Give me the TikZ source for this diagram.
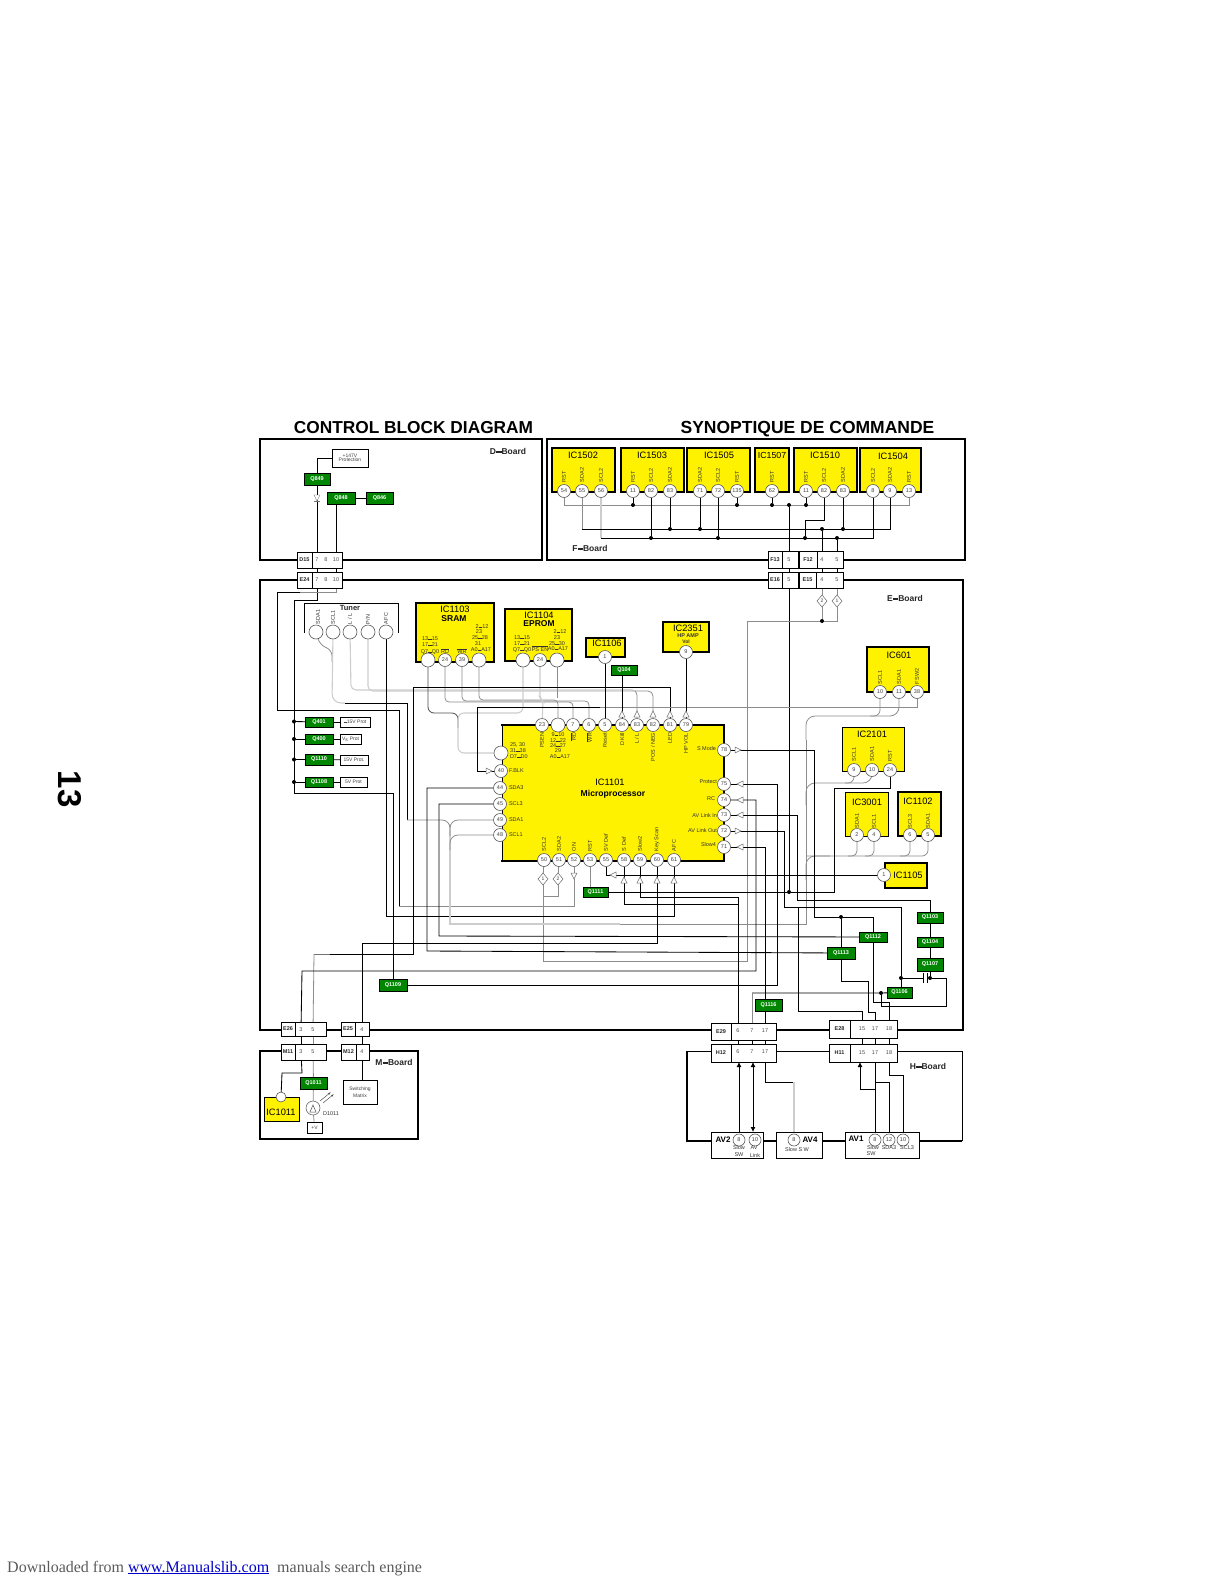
\documentclass[tikz,border=0pt]{standalone}
\usepackage{fontspec}
\setmainfont{Liberation Sans}
\newfontfamily\serifft{Liberation Serif}
\usetikzlibrary{shapes.geometric,arrows.meta}
\pgfdeclarelayer{frames}
\pgfdeclarelayer{wires}
\pgfsetlayers{frames,wires,main}
\definecolor{qgreen}{RGB}{0,134,0}
\definecolor{gwire}{RGB}{140,140,140}
\definecolor{lwire}{RGB}{205,205,205}
\definecolor{linkblue}{RGB}{0,0,200}
\definecolor{footgray}{RGB}{90,90,90}
\newcounter{tc}
\newcommand\fz[1]{\fontsize{#1}{#1}\selectfont}
\newcommand\bd{\rule[0.22ex]{0.65em}{0.4ex}}
\newcommand\ov[1]{$\overline{\mbox{#1}}$}
\newcommand\mytx[4][]{\stepcounter{tc}\node[txt,#1] (t\arabic{tc}) at (#2,#3) {#4};}
\newcommand\myvt[4][]{\stepcounter{tc}\node[txt,rotate=90,#1] (t\arabic{tc}) at (#2,#3) {#4};}
\newcommand\mypin[5][]{\node[pinn,#1] (#2) at (#3,#4) {#5};}
\newcommand\mybx[7][]{\pgfmathsetmacro\bxw{#5-#3}\pgfmathsetmacro\bxh{#6-#4}\pgfmathsetmacro\bxx{(#3+#5)/2}\pgfmathsetmacro\bxy{(#4+#6)/2}\node[#1,minimum width=\bxw pt,minimum height=\bxh pt] (#2) at (\bxx,\bxy) {#7};}
\newcommand\myconn[7]{\mybx[cbox]{#1}{#2}{#3}{#4}{#5}{}\draw[line width=.8pt] (#6,#3) -- (#6,#5);\pgfmathsetmacro\lbx{(#2+#6)/2}\pgfmathsetmacro\lby{(#3+#5)/2}\mytx[font=\bfseries\fz{5.5},text=black!85]{\lbx}{\lby}{#7}}
\newcommand\mycp[4]{\node[cpin] (#1) at (#2,#3) {#4};}
\newcommand\tru[2]{\draw[tri] (#1-3,#2+3) -- (#1+3,#2+3) -- (#1,#2-3) -- cycle;}
\newcommand\trd[2]{\draw[tri] (#1-3,#2-3) -- (#1+3,#2-3) -- (#1,#2+3) -- cycle;}
\newcommand\trl[2]{\draw[tri] (#1+3,#2-3) -- (#1+3,#2+3) -- (#1-3,#2) -- cycle;}
\newcommand\trr[2]{\draw[tri] (#1-3,#2-3) -- (#1-3,#2+3) -- (#1+3,#2) -- cycle;}
\tikzset{
 txt/.style={inner sep=0pt,outer sep=0pt,font=\fz{5.5},text=black!80,align=center},
 ttl/.style={inner sep=0pt,outer sep=0pt,font=\bfseries\fz{17.3},text=black,anchor=base},
 board/.style={inner sep=0pt,outer sep=0pt,font=\bfseries\fz{8.5},text=black!85},
 ictitle/.style={inner sep=0pt,outer sep=0pt,font=\fz{9.3},text=black,align=center},
 ic/.style={draw=black,line width=1.1pt,fill=yellow,inner sep=0pt,outer sep=0pt},
 pinn/.style={circle,draw=black!65,fill=white,line width=.6pt,minimum size=13pt,inner sep=0pt,outer sep=0pt,font=\fz{5.5},text=black!75},
 qb/.style={draw=black,line width=.8pt,fill=qgreen,inner sep=0pt,outer sep=0pt,font=\bfseries\fz{5.5},text=white},
 wb/.style={draw=black,line width=.8pt,fill=white,inner sep=0pt,outer sep=0pt,font=\fz{5},text=black!75,align=center},
 cbox/.style={draw=black,line width=.8pt,fill=white,inner sep=0pt,outer sep=0pt},
 cpin/.style={inner sep=0pt,outer sep=0pt,font=\fz{5.5},text=black!70},
 dia/.style={diamond,draw=black!60,fill=white,line width=.5pt,minimum width=10pt,minimum height=12pt,inner sep=0pt,outer sep=0pt,font=\fz{5},text=black!75},
 jn/.style={circle,fill=black,minimum size=4pt,inner sep=0pt,outer sep=0pt},
 frm/.style={draw=black,line width=1.5pt},
 w/.style={draw=black,line width=.85pt},
 g/.style={draw=gwire,line width=.8pt},
 lg/.style={draw=lwire,line width=1.1pt},
 tri/.style={draw=black!55,fill=white,line width=.5pt},
}
\begin{document}
\begin{tikzpicture}[x=1pt,y=-1pt]
\useasboundingbox (0,0) rectangle (1224,1584);
% page items
\node[ttl] (title1) at (413.5,433) {CONTROL BLOCK DIAGRAM};
\node[ttl,font=\bfseries\fz{17.5}] (title2) at (807.5,433) {SYNOPTIQUE DE COMMANDE};
\node[inner sep=0pt,rotate=-90,font=\bfseries\fz{33},text=black] (pageno) at (70,789) {13};
\node[inner sep=0pt,anchor=base west,font=\serifft\fz{16},text=footgray] (foot) at (7,1572) {Downloaded from {\color{linkblue}\underline{www.Manualslib.com}}\ \ manuals search engine};

\begin{pgfonlayer}{frames}
\draw[frm] (260,439) rectangle (542,560);
\draw[frm] (547,439) rectangle (965,560);
\draw[frm,line width=1.8pt] (260,580) rectangle (963,1030);
\draw[frm,line width=1.8pt] (260,1051) -- (260,1139) -- (418,1139) -- (418,1051) -- cycle;
\draw[draw=black,line width=1pt] (687,1051) -- (962,1051) -- (962,1141);
\draw[frm,line width=1.8pt] (687,1051) -- (687,1141) -- (962,1141);
\end{pgfonlayer}

\node[board] (bD) at (508,451) {D\bd Board};
\node[board] (bF) at (590,548) {F\bd Board};
\node[board] (bE) at (905,598) {E\bd Board};
\node[board] (bM) at (394,1062) {M\bd Board};
\node[board] (bH) at (928,1066) {H\bd Board};

% ---------- top IC row
\mybx[ic]{IC1502}{552}{448}{615}{492}{}
\mybx[ic]{IC1503}{621}{448}{684}{492}{}
\mybx[ic]{IC1505}{687}{448}{750}{492}{}
\mybx[ic]{IC1507}{755}{448}{789}{492}{}
\mybx[ic]{IC1510}{794}{448}{857}{492}{}
\mybx[ic]{IC1504}{860}{448}{921}{492}{}
\mytx[ictitle]{583}{455}{IC1502}
\mytx[ictitle]{652}{455}{IC1503}
\mytx[ictitle]{719}{455}{IC1505}
\mytx[ictitle,font=\fz{8.8}]{772}{455}{IC1507}
\mytx[ictitle]{825}{455}{IC1510}
\mytx[ictitle]{893}{456}{IC1504}
\mypin{a54}{564}{491}{54}\mypin{a55}{582}{491}{55}\mypin{a56}{601}{491}{56}
\mypin{b11}{633}{491}{11}\mypin{b82}{651}{491}{82}\mypin{b83}{670}{491}{83}
\mypin{c71}{700}{491}{71}\mypin{c72}{718}{491}{72}\mypin{c135}{737}{491}{135}
\mypin{d62}{772}{491}{62}
\mypin{e11}{806}{491}{11}\mypin{e82}{824}{491}{82}\mypin{e83}{843}{491}{83}
\mypin{f8}{873}{491}{8}\mypin{f9}{890}{491}{9}\mypin{f13}{909}{491}{13}
\myvt[anchor=west]{564}{482}{RST}\myvt[anchor=west]{582}{482}{SDA2}\myvt[anchor=west]{601}{482}{SCL2}
\myvt[anchor=west]{633}{482}{RST}\myvt[anchor=west]{651}{482}{SCL2}\myvt[anchor=west]{670}{482}{SDA2}
\myvt[anchor=west]{700}{482}{SDA2}\myvt[anchor=west]{718}{482}{SCL2}\myvt[anchor=west]{737}{482}{RST}
\myvt[anchor=west]{772}{482}{RST}
\myvt[anchor=west]{806}{482}{RST}\myvt[anchor=west]{824}{482}{SCL2}\myvt[anchor=west]{843}{482}{SDA2}
\myvt[anchor=west]{873}{482}{SCL2}\myvt[anchor=west]{890}{482}{SDA2}\myvt[anchor=west]{909}{482}{RST}

% ---------- D board
\mybx[wb]{plus147}{332}{449}{368}{467}{+147V\\[-.5pt]Protection}
\mybx[qb]{Q849}{304}{473}{330}{485}{Q849}
\mybx[qb]{Q848}{327}{492}{355}{504}{Q848}
\mybx[qb]{Q846}{366}{492}{393}{504}{Q846}
\draw[tri,line width=.4pt] (314,495) -- (320,495) -- (317,501) -- cycle;
\draw[tri,line width=.4pt] (314,501) -- (320,501);

% ---------- connectors
\myconn{D15}{297}{552}{342}{568}{312}{D15}
\myconn{E24}{297}{572}{342}{588}{312}{E24}
\mycp{D15p7}{317}{560}{7}\mycp{D15p8}{326}{560}{8}\mycp{D15p10}{336}{560}{10}
\mycp{E24p7}{317}{580}{7}\mycp{E24p8}{326}{580}{8}\mycp{E24p10}{336}{580}{10}
\myconn{F13}{768}{551}{798}{568}{782}{F13}
\myconn{F12}{799}{551}{843}{568}{817}{F12}
\myconn{E16}{768}{572}{798}{588}{782}{E16}
\myconn{E15}{799}{572}{843}{588}{816}{E15}
\mycp{F13p5}{789}{560}{5}\mycp{F12p4}{822}{560}{4}\mycp{F12p5}{837}{560}{5}
\mycp{E16p5}{789}{580}{5}\mycp{E15p4}{822}{580}{4}\mycp{E15p5}{837}{580}{5}
\node[dia] (dE2) at (822,601) {2};
\node[dia] (dE1) at (837,601) {1};
\myconn{E26}{281}{1022}{326}{1036}{295}{E26}
\myconn{M11}{281}{1044}{326}{1060}{295}{M11}
\myconn{E25}{341}{1022}{369}{1036}{355}{E25}
\myconn{M12}{341}{1044}{369}{1060}{356}{M12}
\mycp{E26p3}{301}{1030}{3}\mycp{E26p5}{313}{1030}{5}\mycp{E25p4}{362}{1030}{4}
\mycp{M11p3}{301}{1052}{3}\mycp{M11p5}{313}{1052}{5}\mycp{M12p4}{362}{1052}{4}
\myconn{E29}{711}{1023}{776}{1040}{731}{E29}
\myconn{H12}{711}{1044}{776}{1062}{731}{H12}
\myconn{E28}{829}{1020}{897}{1038}{850}{E28}
\myconn{H11}{829}{1044}{897}{1062}{850}{H11}
\mycp{E29p6}{738}{1031}{6}\mycp{E29p7}{752}{1031}{7}\mycp{E29p17}{765}{1031}{17}
\mycp{H12p6}{738}{1052}{6}\mycp{H12p7}{752}{1052}{7}\mycp{H12p17}{765}{1052}{17}
\mycp{E28p15}{862}{1029}{15}\mycp{E28p17}{875}{1029}{17}\mycp{E28p18}{889}{1029}{18}
\mycp{H11p15}{862}{1053}{15}\mycp{H11p17}{875}{1053}{17}\mycp{H11p18}{889}{1053}{18}

% ---------- tuner + memories
\node[inner sep=0pt,outer sep=0pt,minimum width=94pt,minimum height=30pt,fill=white] (tunerbox) at (351,618) {};
\draw[line width=.8pt] (304,633) -- (304,603) -- (398,603) -- (398,633);
\mytx[font=\bfseries\fz{7.5},text=black!85]{350}{608}{Tuner}
\mypin[minimum size=14pt]{tu1}{316}{632}{}\mypin[minimum size=14pt]{tu2}{333}{632}{}\mypin[minimum size=14pt]{tu3}{350}{632}{}\mypin[minimum size=14pt]{tu4}{368}{632}{}\mypin[minimum size=14pt]{tu5}{386}{632}{}
\myvt[anchor=west]{318}{624}{SDA1}\myvt[anchor=west]{333}{624}{SCL1}\myvt[anchor=west]{350}{624}{L / L}\myvt[anchor=west]{368}{624}{P/N}\myvt[anchor=west]{386}{624}{AFC}

\mybx[ic,line width=1.4pt]{IC1103}{416}{603}{494}{662}{}
\mytx[ictitle]{455}{609}{IC1103}
\mytx[ictitle,font=\bfseries\fz{8.5}]{454}{618.5}{SRAM}
\mytx{482}{627}{2\bd12}\mytx{479}{632}{23}\mytx{480}{638}{25\bd28}\mytx{478}{644}{31}\mytx{481}{650}{A0\bd A17}
\mytx{430}{639}{13\bd15}\mytx{430}{645}{17\bd21}\mytx{430}{652}{Q7\bd Q0}
\mytx{445}{651}{\ov{RD}}\mytx{462}{651}{\ov{WR}}
\mypin[minimum size=14pt]{sr1}{428}{660}{}\mypin[minimum size=13pt]{sr24}{445}{660}{24}\mypin[minimum size=13pt]{sr39}{462}{660}{39}\mypin[minimum size=14pt]{sr4}{479}{660}{}

\mybx[ic]{IC1104}{505}{609}{572}{661}{}
\mytx[ictitle]{539}{615}{IC1104}
\mytx[ictitle,font=\bfseries\fz{8.5}]{539}{624}{EPROM}
\mytx{560}{632}{2\bd12}\mytx{557}{638}{23}\mytx{557}{644}{25\bd30}\mytx{558}{649}{A0\bd A17}
\mytx{522}{638}{13\bd15}\mytx{522}{644}{17\bd21}\mytx{522}{650}{Q7\bd Q0}\mytx{540}{649}{\ov{PS EN}}
\mypin[minimum size=14pt]{ep1}{523}{660}{}\mypin{ep24}{540}{660}{24}\mypin[minimum size=14pt]{ep3}{557}{660}{}

\mybx[ic,line width=1.4pt]{IC1106}{586}{638}{625}{657}{}
\mytx[ictitle]{607}{643}{IC1106}
\mypin{g1}{605}{657}{1}
\mybx[qb]{Q104}{611}{665}{637}{675}{Q104}
\mybx[ic,line width=1.4pt]{IC2351}{663}{622}{709}{652}{}
\mytx[ictitle]{688}{628}{IC2351}
\mytx[font=\bfseries\fz{5.5}]{688}{636}{HP AMP}\mytx[font=\bfseries\fz{5}]{686}{642}{Vol}
\mypin{h9}{686}{652}{9}

% ---------- Q/prot column
\mybx[qb]{Q401}{305}{717}{333}{727}{Q401}
\mybx[qb]{Q400}{305}{734}{333}{744}{Q400}
\mybx[qb]{Q1110}{305}{754}{333}{765}{Q1110}
\mybx[qb]{Q1108}{305}{777}{333}{787}{Q1108}
\mybx[wb]{P1}{340}{717}{370}{727}{\bd15V Prot}
\mybx[wb]{P2}{340}{734}{361}{744}{V\textsubscript{s} Prot}
\mybx[wb]{P3}{340}{755}{368}{765}{15V Prot.}
\mybx[wb]{P4}{340}{777}{367}{787}{5V Prot}

% ---------- IC1101
\mybx[ic,line width=.9pt]{IC1101}{502}{725}{724}{861}{}
\draw[line width=2pt] (501,725) -- (725,725);
\draw[line width=2pt] (501,861) -- (725,861);
\draw[line width=1.5pt] (724,725) -- (724,861);
\mytx[ictitle]{610}{782}{IC1101}
\mytx[ictitle,font=\bfseries\fz{8.6}]{613}{794}{Microprocessor}
\mypin{m23}{542}{725}{23}\mypin[minimum size=14pt]{mb}{558}{725}{}\mypin{m7}{573}{725}{7}\mypin{m6}{589}{725}{6}\mypin{m5}{605}{725}{5}\mypin{m84}{622}{725}{84}\mypin{m83}{637}{725}{83}\mypin{m82}{653}{725}{82}\mypin{m81}{670}{725}{81}\mypin{m79}{686}{725}{79}
\myvt[anchor=east]{542}{733}{PSEN}\myvt[anchor=east]{589}{733}{\ov{WR}}\myvt[anchor=east]{573}{733}{\ov{RD}}\myvt[anchor=east]{605}{733}{Reset}\myvt[anchor=east]{622}{733}{D Kill}\myvt[anchor=east]{637}{733}{L / L}\myvt[anchor=east]{653}{733}{POS / NEG}\myvt[anchor=east]{670}{733}{LED}\myvt[anchor=east]{686}{733}{HP VOL}
\mytx{558}{735}{9\bd10}\mytx{558}{741}{12\bd22}\mytx{558}{746}{24\bd27}\mytx{558}{751}{29}\mytx{560}{757}{A0\bd A17}
\mypin[minimum size=14pt]{mD}{501}{753}{}
\mytx[anchor=west]{510}{745}{25, 30}\mytx[anchor=west]{510}{751}{31\bd 38}\mytx[anchor=west]{510}{757}{D7\bd D0}
\mypin{m40}{501}{771}{40}\mypin{m44}{500}{788}{44}\mypin{m45}{500}{804}{45}\mypin{m49}{500}{820}{49}\mypin{m48}{500}{835}{48}
\mytx[anchor=west]{509}{771}{F.BLK}\mytx[anchor=west]{509}{788}{SDA3}\mytx[anchor=west]{509}{804}{SCL3}\mytx[anchor=west]{509}{820}{SDA1}\mytx[anchor=west]{509}{835}{SCL1}
\mypin{m78}{724}{750}{78}\mypin{m75}{724}{784}{75}\mypin{m74}{724}{800}{74}\mypin{m73}{724}{815}{73}\mypin{m72}{724}{831}{72}\mypin{m71}{724}{847}{71}
\mytx[anchor=east]{716}{749}{S Mode}\mytx[anchor=east]{717}{782}{Protect}\mytx[anchor=east]{715}{799}{RC}\mytx[anchor=east]{717}{815}{AV Link In}\mytx[anchor=east]{717}{831}{AV Link Out}\mytx[anchor=east]{716}{845}{Slow4}
\mypin{m50}{544}{860}{50}\mypin{m51}{559}{860}{51}\mypin{m52}{574}{860}{52}\mypin{m53}{590}{860}{53}\mypin{m55}{606}{860}{55}\mypin{m58}{624}{860}{58}\mypin{m59}{640}{860}{59}\mypin{m60}{657}{860}{60}\mypin{m61}{674}{860}{61}
\myvt[anchor=west]{544}{851}{SCL2}\myvt[anchor=west]{559}{851}{SDA2}\myvt[anchor=west]{574}{851}{ON}\myvt[anchor=west]{590}{851}{RST}\myvt[anchor=west]{606}{851}{SV Def}\myvt[anchor=west]{624}{851}{S Def}\myvt[anchor=west]{640}{851}{Slow2}\myvt[anchor=west]{657}{851}{Key Scan}\myvt[anchor=west]{674}{851}{AFC}
\node[dia] (dm1) at (543,879) {1};
\node[dia] (dm2) at (558,879) {2};
\mybx[qb]{Q1111}{583}{887}{608}{897}{Q1111}

% ---------- right ICs
\mybx[ic,line width=1.2pt]{IC601}{867}{647}{929}{692}{}
\mytx[ictitle]{899}{655}{IC601}
\mypin{t10}{880}{692}{10}\mypin{t11}{899}{692}{11}\mypin{t38}{917}{692}{38}
\myvt[anchor=west]{880}{684}{SCL1}\myvt[anchor=west]{899}{684}{SDA1}\myvt[anchor=west]{917}{684}{FSW2}
\mybx[ic,line width=1.0pt]{IC2101}{842}{727}{904}{771}{}
\mytx[ictitle]{872}{734}{IC2101}
\mypin{u9}{854}{770}{9}\mypin{u10}{872}{770}{10}\mypin{t24}{890}{770}{24}
\myvt[anchor=west]{854}{761}{SCL1}\myvt[anchor=west]{872}{761}{SDA1}\myvt[anchor=west]{890}{761}{RST}
\mybx[ic,line width=1.0pt]{IC3001}{845}{792}{888}{836}{}
\mytx[ictitle]{867}{802}{IC3001}
\mypin{v2}{857}{835}{2}\mypin{v4}{874}{835}{4}
\myvt[anchor=west]{857}{828}{SDA1}\myvt[anchor=west]{874}{828}{SCL1}
\mybx[ic,line width=1.3pt]{IC1102}{898}{792}{941}{836}{}
\mytx[ictitle]{918}{801}{IC1102}
\mypin{x6}{910}{835}{6}\mypin{x5}{928}{835}{5}
\myvt[anchor=west]{910}{828}{SCL3}\myvt[anchor=west]{928}{828}{SDA1}
\mybx[ic,line width=1.5pt]{IC1105}{885}{863}{927}{888}{}
\mytx[ictitle]{908}{875}{IC1105}
\mypin{y1}{884}{875}{1}

% ---------- Q right/bottom
\mybx[qb]{Q1103}{917}{912}{943}{923}{Q1103}
\mybx[qb]{Q1104}{917}{937}{943}{947}{Q1104}
\mybx[qb]{Q1107}{917}{958}{943}{971}{Q1107}
\mybx[qb]{Q1112}{859}{932}{887}{942}{Q1112}
\mybx[qb]{Q1113}{827}{947}{855}{959}{Q1113}
\mybx[qb]{Q1106}{887}{987}{912}{998}{Q1106}
\mybx[qb]{Q1116}{755}{999}{782}{1011}{Q1116}
\mybx[qb]{Q1109}{379}{979}{407}{991}{Q1109}
\node[jn] (jC1) at (901,978) {};
\node[jn] (jC2) at (930,978) {};
\node[jn] (jQ6) at (881,993) {};
\node[jn] (jQ13) at (841,917) {};
\node[jn] (jR) at (789,892) {};
\node[jn] (j1) at (633,505) {};
\node[jn] (j2) at (737,505) {};
\node[jn] (j3) at (772,505) {};
\node[jn] (j4) at (789,505) {};
\node[jn] (j5) at (806,505) {};
\node[jn] (jg) at (822,621) {};
\node[jn] (k1) at (651,538) {};
\node[jn] (k2) at (718,538) {};
\node[jn] (k3) at (805,538) {};
\node[jn] (k4) at (837,538) {};
\node[jn] (k5) at (670,529) {};
\node[jn] (k6) at (700,529) {};
\node[jn] (k7) at (822,529) {};
\node[jn] (k8) at (843,529) {};

% ---------- M board content
\mybx[qb]{Q1011}{300}{1077}{327}{1089}{Q1011}
\mybx[ic,line width=.8pt]{IC1011}{264}{1097}{299}{1121}{}
\mytx[ictitle]{281}{1112}{IC1011}
\mypin[minimum size=10pt]{ic11p}{281}{1097}{}
\mybx[wb]{SwMat}{343}{1080}{377}{1104}{Switching\\[2pt]Matrix}
\mybx[wb]{plusV}{307}{1122}{322}{1133}{+V}
\node[circle,draw=black!70,fill=white,line width=.5pt,minimum size=14pt,inner sep=0pt] (D1011) at (313,1108) {};
\draw[line width=.5pt,black!70] (310,1112) -- (316,1112) -- (313,1105) -- cycle;
\draw[line width=.5pt,black!70,-{Latex[length=3pt,width=2pt]}] (320,1101) -- (331,1092);
\draw[line width=.5pt,black!70,-{Latex[length=3pt,width=2pt]}] (323,1103) -- (334,1094);
\mytx[font=\fz{5.5}]{331}{1114}{D1011}

% ---------- AV
\mybx[cbox]{AV2}{711}{1132}{763}{1158}{}
\mybx[cbox]{AV4}{776}{1132}{822}{1158}{}
\mybx[cbox]{AV1}{845}{1132}{919}{1158}{}
\mytx[font=\bfseries\fz{8},text=black]{723}{1140}{AV2}
\mytx[font=\bfseries\fz{8},text=black]{810}{1140}{AV4}
\mytx[font=\bfseries\fz{8},text=black]{856}{1139}{AV1}
\mypin[minimum size=12pt]{av2a}{739}{1140}{8}\mypin[minimum size=12pt]{av2b}{755}{1140}{10}
\mypin[minimum size=12pt]{av4a}{794}{1140}{8}
\mypin[minimum size=12pt]{av1a}{875}{1140}{8}\mypin[minimum size=12pt]{av1b}{889}{1140}{12}\mypin[minimum size=12pt]{av1c}{903}{1140}{10}
\mytx{739}{1148}{Slow}\mytx{739}{1155}{SW}\mytx{754}{1148}{AV}\mytx{755}{1155}{Link}
\mytx{797}{1150}{Slow S W}
\mytx{873}{1148}{Slow}\mytx{871}{1154}{SW}\mytx{889}{1148}{SDA3}\mytx{907}{1148}{SCL3}

% ---------- triangles
\tru{622}{714}\tru{637}{714}\tru{653}{714}\tru{670}{714}\tru{686}{714}
\trr{489}{771}\trr{738}{750}\trl{740}{784}\trl{740}{800}\trl{740}{815}\trr{738}{831}\trl{740}{847}
\trl{613}{875}\tru{624}{880}\tru{640}{880}\tru{657}{880}\tru{674}{880}\trd{574}{876}

% ==================== WIRES
\begin{pgfonlayer}{wires}
% top buses
\draw[g] (a54) -- (564,505) -- (909,505) -- (f13);
\draw[w,line width=.6pt] (b11) -- (j1); \draw[w,line width=.6pt] (c135) -- (j2);\draw[w,line width=.6pt] (d62) -- (j3);\draw[w,line width=.6pt] (e11) -- (j5);
\draw[g] (a55) -- (582,529);
\draw[lg] (a56) -- (601,538);
\draw[w] (582,529) -- (890,529) -- (f9);
\draw[w] (601,538) -- (873,538) -- (f8);
\draw[w] (b82) -- (k1); \draw[w] (b83) -- (k5); \draw[w] (c71) -- (k6); \draw[w] (c72) -- (k2);
\draw[w] (e83) -- (k8);
\draw[w] (e82) -- (824,520) -- (805,520) -- (k3);
\draw[w] (j4) -- (F13p5.center) -- (E16p5.center);
\draw[w] (k7) -- (F12p4.center) -- (E15p4.center);
\draw[w] (k4) -- (F12p5.center) -- (E15p5.center);
\draw[w] (E16p5.center) -- (jR);
\draw[g] (E15p4.center) -- (dE2);
\draw[g] (E15p5.center) -- (dE1);
\draw[g] (dE1) -- (837,621) -- (747,621) -- (747,961) -- (543,961) -- (dm1);
\draw[g] (dE2) -- (jg);
\draw[g] (dm2) -- (558,896) -- (543,896);
\draw[g] (m50) -- (dm1); \draw[g] (m51) -- (dm2);
% D board
\draw[w] (D15p7.center) -- (E24p7.center);
\draw[w] (D15p10.center) -- (E24p10.center);
\draw[w] (Q849) -- (D15p7.center);
\draw[w] (Q849.north) |- (plus147.west);
\draw[w] (D15p10.center) -- (D15p10 |- Q848.south);
\draw[w] (Q848) -- (Q846);
% E24 fan
\draw[w] (E24p7.center) -- (317,600) -- (294,600) -- (294,793) -- (393,793) -- (Q1109);
\draw[g] (E24p10.center) -- (336,592) -- (300,592);
\draw[w] (300,592) -- (277,592) -- (277,710) -- (399,710) -- (399,906);
\draw[g] (399,906) -- (574,906) -- (m52);
% Q column
\foreach \qn/\pn/\yy in {Q401/P1/721.5,Q400/P2/739,Q1110/P3/759.5,Q1108/P4/782}{
  \node[jn] (jq\qn) at (294,\yy) {};
  \draw[w] (jq\qn) -- (\qn);
  \draw[w] (\qn) -- (\pn);
}
% tuner wires
\draw[g,rounded corners=6] (tu1) -- (320,645) -- (332,650) -- (332,662);
\draw[lg,rounded corners=9] (tu2) -- (332,703) -- (345,703);
\draw[w] (345,703) -- (407,703) -- (407,820);
\draw[g,rounded corners=8] (407,820) -- (450,820) -- (450,836);
\draw[lg,rounded corners=5] (tu3) -- (351,690) -- (620,690);
\draw[g,rounded corners=5] (620,690) -- (637,690) -- (m83);
\draw[lg,rounded corners=5] (tu4) -- (368,691) -- (635,691);
\draw[g,rounded corners=5] (635,691) -- (653,691) -- (m82);
\draw[w] (tu5) -- (386,916) -- (674,916) -- (m61);
% memory wires
\draw[g,rounded corners=4] (sr24) -- (445,702) -- (573,702) -- (m7);
\draw[g,rounded corners=4] (sr39) -- (462,701) -- (589,701) -- (m6);
\draw[g,rounded corners=4] (sr4) -- (479,700) -- (558,700) -- (mb);
\draw[lg,rounded corners=3] (ep24) -- (540,698) -- (543,701) -- (m23);
\draw[g,rounded corners=3] (ep3) -- (557,698);
\draw[black!70,line width=.8pt,rounded corners=6] (sr1) -- (428,713) -- (458,713) -- (458,728);
\draw[lg,rounded corners=6] (ep1) -- (523,713) -- (458,713) -- (458,728);
\draw[lg,rounded corners=6] (458,722) -- (458,753) -- (mD);
% LED
\draw[w] (m81) -- (670,687) -- (413,687) -- (413,954) -- (330,954);
\draw[w,draw=black!55] (330,954) -- (314,954);
\draw[g] (314,954) -- (E26p5.center);
% F.BLK
\draw[w] (m40) -- (477,771) -- (477,707) -- (600,707);
\draw[g] (600,707) -- (917,707) -- (t38);
% SCL/SDA bus
\draw[lg] (450,830) -- (450,924) -- (620,924);
\draw[g] (620,924) -- (806,924) -- (806,860);
\draw[g,rounded corners=8] (m49) -- (450,820) -- (450,836);
\draw[g,rounded corners=8] (m48) -- (450,835) -- (450,850);
\draw[g,rounded corners=9] (t11) -- (899,716) -- (806,716) -- (806,740);
\draw[g,rounded corners=6] (t10) -- (880,716) -- (870,716);
\draw[g,rounded corners=9] (u10) -- (872,783) -- (806,783) -- (806,805);
\draw[g,rounded corners=6] (u9) -- (854,783) -- (845,783);
\draw[g,rounded corners=6] (x5) -- (928,856) -- (806,856);
\draw[g,rounded corners=9] (830,856) -- (806,856) -- (806,880);
\draw[g,rounded corners=5] (x6) -- (910,856) -- (900,856);
\draw[g,rounded corners=5] (v4) -- (874,856) -- (865,856);
\draw[g,rounded corners=5] (v2) -- (857,856) -- (848,856);
\draw[g] (806,740) -- (806,860);
% IC1101 right side
\draw[w] (m78) -- (814,750) -- (814,917) -- (jQ13) -- (873,917) -- (Q1112);
\draw[w] (Q1112) -- (873,1002) -- (889,1002) -- (E28p18.center);
\draw[w] (jQ13) -- (Q1113);
\draw[w] (Q1113) -- (841,981) -- (868,981) -- (868,1012) -- (875,1012) -- (E28p17.center);
\draw[w] (m75) -- (777,784) -- (777,985) -- (Q1109);
\draw[w] (m74) -- (756,800) -- (756,971) -- (302,971) -- (E26p3.center);
\draw[w] (m73) -- (797,815) -- (797,900) -- (930,900) -- (Q1103);
\draw[w] (Q1103) -- (Q1104); \draw[w] (Q1104) -- (Q1107); \draw[w] (Q1107) -- (jC2);
\draw[w] (m72) -- (784,831) -- (784,907) -- (901,907) -- (jC1);
\draw[w] (798,907) -- (798,1011) -- (862,1011) -- (E28p15.center);
\draw[w] (m71) -- (765,847) -- (765,1000);
\draw[w] (765,1010) -- (E29p17.center);
\draw[w] (jC1) -- (923,978);
\draw[w] (923,973) -- (923,983);
\draw[w] (927,973) -- (927,983);
\draw[w] (927,978) -- (jC2);
\draw[w] (jC2) -- (946,978) -- (946,1006) -- (881,1006) -- (jQ6);
\draw[w] (jC1) -- (901,987);
\draw[w] (Q1106) -- (jQ6) -- (752,993);
\draw[g] (752,993) -- (E29p7.center);
% IC1101 bottom
\draw[w] (m55) -- (606,875) -- (y1);
\draw[w] (m58) -- (624,904) -- (738,904);
\draw[w] (m59) -- (640,897) -- (738,897) -- (E29p6.center);
\draw[w] (m60) -- (657,943) -- (362,943) -- (E25p4.center);
\draw[g] (m53) -- (590,887);
\draw[w] (Q1111) -- (jR) -- (834,892) -- (834,788) -- (890,788) -- (t24);
% to IC1101 left
\draw[w] (m44) -- (427,788) -- (427,951) -- (Q1113);
\draw[w] (m45) -- (439,804) -- (439,936) -- (Q1112);
% top singles
\draw[w] (g1) -- (m5);
\draw[w] (622,675) -- (m84);
\draw[w] (h9) -- (m79);
% M board
\draw[w] (E26p3.center) -- (M11p3.center);
\draw[g] (E26p5.center) -- (M11p5.center);
\draw[w] (E25p4.center) -- (M12p4.center);
\draw[w] (M11p3.center) -- (302,1073) -- (282,1073) -- (ic11p);
\draw[g] (M11p5.center) -- (Q1011);
\draw[g] (Q1011) -- (D1011);
\draw[g] (D1011) -- (plusV);
\draw[w] (M12p4.center) -- (SwMat.north -| M12p4);
% H board
\draw[w] (E29p6.center) -- (H12p6.center);
\draw[w] (E29p7.center) -- (H12p7.center);
\draw[w] (E29p17.center) -- (H12p17.center);
\draw[w] (E28p15.center) -- (H11p15.center);
\draw[w] (E28p17.center) -- (H11p17.center);
\draw[w] (E28p18.center) -- (H11p18.center);
\draw[w,-{Latex[length=5pt,width=5pt]}] (av2a) -- (av2a |- H12.south);
\draw[w,{Latex[length=5pt,width=5pt]}-{Latex[length=5pt,width=5pt]}] (753,1132) -- (753,1062);
\draw[w] (H12p17.center) -- (765,1082) -- (794,1082);
\draw[lg] (794,1082) -- (av4a);
\draw[w,-{Latex[length=5pt,width=5pt]}] (875,1089) -- (860,1089) -- (860,1062);
\draw[w] (H11p17.center) -- (av1a);
\draw[w] (875,1082) -- (889,1082) -- (av1b);
\draw[w] (H11p18.center) -- (889,1075) -- (903,1075) -- (av1c);
\end{pgfonlayer}
\end{tikzpicture}
\end{document}
